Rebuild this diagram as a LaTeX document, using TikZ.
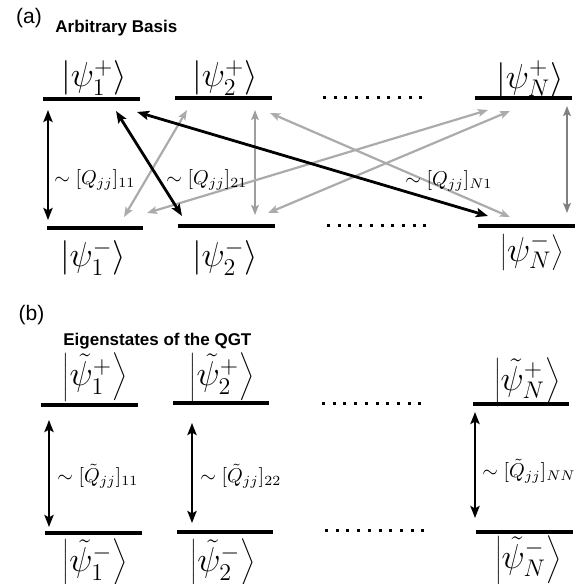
\documentclass[tikz,border=0pt]{standalone}
\usepackage{fontspec}
\setsansfont{Liberation Sans}
\usetikzlibrary{arrows.meta}
\begin{document}
\begin{tikzpicture}[x=0.5pt,y=-0.5pt,
  level/.style={line width=1.6pt},
  dots/.style={line width=1.5pt,dash pattern=on 1.5pt off 3.85pt},
  blk/.style={{Stealth[length=6pt,width=4.6pt,inset=1.2pt]}-{Stealth[length=6pt,width=4.6pt,inset=1.2pt]},line width=1.4pt,black},
  gry/.style={{Stealth[length=5pt,width=3.8pt,inset=1pt]}-{Stealth[length=5pt,width=3.8pt,inset=1pt]},line width=1.1pt,black!33},
  ket/.style={font=\LARGE,inner sep=0pt},
  amp/.style={font=\normalsize,inner sep=0pt},
  tag/.style={font=\sffamily\fontsize{10.5}{12}\selectfont,inner sep=0pt},
  head/.style={font=\sffamily\bfseries\fontsize{8.5}{10}\selectfont,inner sep=0pt,anchor=base west}]
\useasboundingbox (0,0) rectangle (580,584);
% (a) arbitrary basis
\node[tag] (taga) at (29,18) {(a)};
\node[head] (heada) at (55,32.5) {Arbitrary Basis};
\draw[level] (43,99)--(140,99);
\draw[level] (175,98)--(272,98);
\draw[level] (475,98)--(572,98);
\draw[level] (47,228)--(143,228);
\draw[level] (178,226)--(275,226);
\draw[level] (478,226)--(575,226);
\draw[dots] (323,97)--(422,97);
\draw[dots] (327,225)--(426,225);
\node[ket] (p1) at (94,78) {$\left|\psi_1^+\right\rangle$};
\node[ket] (p2) at (225,78) {$\left|\psi_2^+\right\rangle$};
\node[ket] (pN) at (530,79) {$\left|\psi_N^+\right\rangle$};
\node[ket] (m1) at (93,258) {$\left|\psi_1^-\right\rangle$};
\node[ket] (m2) at (225,258) {$\left|\psi_2^-\right\rangle$};
\node[ket] (mN) at (532,252) {$\left|\psi_N^-\right\rangle$};
% arrow ends
\coordinate (u11) at (48,110); \coordinate (d11) at (48,220);
\coordinate (u21) at (116,111); \coordinate (d21) at (182,216);
\coordinate (uN1) at (137,112); \coordinate (dN1) at (488,216);
\coordinate (u12) at (187,110); \coordinate (d12) at (124,217);
\coordinate (u22) at (255,110); \coordinate (d22) at (255,215);
\coordinate (u2N) at (270,113); \coordinate (d2N) at (510,217);
\coordinate (uN1g) at (488,110); \coordinate (dN1g) at (147,213);
\coordinate (uN2) at (510,111); \coordinate (dN2) at (268,213);
\coordinate (uNN) at (567,106); \coordinate (dNN) at (567,213);
\draw[gry] (u12)--(d12);
\draw[gry,black!38] (u22)--(d22);
\draw[gry] (u2N)--(d2N);
\draw[gry] (uN1g)--(dN1g);
\draw[gry] (uN2)--(dN2);
\draw[gry,black!50] (uNN)--(dNN);
\draw[blk] (u11)--(d11);
\draw[blk] (u21)--(d21);
\draw[blk] (uN1)--(dN1);
\node[amp,anchor=west] (q11) at (54,180) {$\sim[Q_{jj}]_{11}$};
\node[amp,anchor=west] (q21) at (166,180) {$\sim[Q_{jj}]_{21}$};
\node[amp,anchor=west] (qN1) at (405,181) {$\sim[Q_{jj}]_{N1}$};
% (b) eigenstates
\node[tag] (tagb) at (31.5,315) {(b)};
\node[head] (headb) at (63,345) {Eigenstates of the QGT};
\draw[level] (41,405)--(138,405);
\draw[level] (173,403)--(269,403);
\draw[level] (473,404)--(569,404);
\draw[level] (45,533)--(142,533);
\draw[level] (177,532)--(273,532);
\draw[level] (476,532)--(573,532);
\draw[dots] (322,403)--(421,403);
\draw[dots] (325,530)--(424,530);
\node[ket] (e1p) at (95,377) {$\left|\tilde\psi_1^+\right\rangle$};
\node[ket] (e2p) at (222,377) {$\left|\tilde\psi_2^+\right\rangle$};
\node[ket] (eNp) at (527,382) {$\left|\tilde\psi_N^+\right\rangle$};
\node[ket] (e1m) at (95,563) {$\left|\tilde\psi_1^-\right\rangle$};
\node[ket] (e2m) at (223,563) {$\left|\tilde\psi_2^-\right\rangle$};
\node[ket] (eNm) at (528,560) {$\left|\tilde\psi_N^-\right\rangle$};
\coordinate (t1) at (49,420); \coordinate (b1) at (49,527);
\coordinate (t2) at (192,423); \coordinate (b2) at (192,523);
\coordinate (tN) at (475,412); \coordinate (bN) at (475,518);
\draw[blk] (t1)--(b1);
\draw[blk] (t2)--(b2);
\draw[blk] (tN)--(bN);
\node[amp,anchor=west] (r11) at (57,476) {$\sim[\tilde Q_{jj}]_{11}$};
\node[amp,anchor=west] (r22) at (200,476) {$\sim[\tilde Q_{jj}]_{22}$};
\node[amp,anchor=west] (rNN) at (482,471) {$\sim[\tilde Q_{jj}]_{NN}$};
\end{tikzpicture}
\end{document}
